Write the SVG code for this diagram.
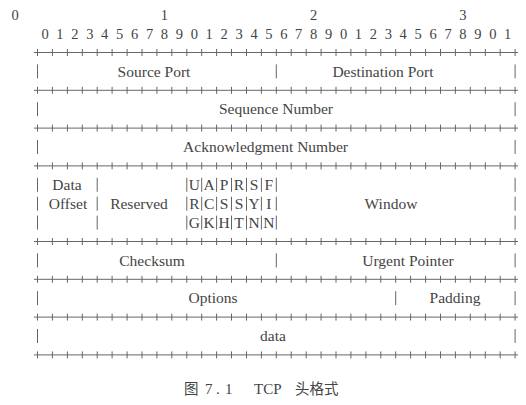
<svg xmlns="http://www.w3.org/2000/svg" width="526" height="405" viewBox="0 0 526 405">
<style>
text{font-family:"Liberation Serif","Times New Roman",serif;fill:#444;font-size:15.5px}
.d{font-size:14.5px;text-anchor:middle}
.m{text-anchor:middle}
.ln{stroke:#666;stroke-width:1;fill:none}
.cap{font-family:"Liberation Serif","Noto Sans CJK SC",serif;font-size:15px}
.cj{font-family:"Noto Sans CJK SC",sans-serif;font-size:14.5px}
</style>
<defs>
<path id="rule" class="ln" d="M34 0H518M37.5 -3.5v7M52.4 -3.5v7M67.4 -3.5v7M82.3 -3.5v7M97.2 -3.5v7M112.1 -3.5v7M127.1 -3.5v7M142 -3.5v7M156.9 -3.5v7M171.8 -3.5v7M186.8 -3.5v7M201.7 -3.5v7M216.6 -3.5v7M231.5 -3.5v7M246.5 -3.5v7M261.4 -3.5v7M276.3 -3.5v7M291.2 -3.5v7M306.2 -3.5v7M321.1 -3.5v7M336 -3.5v7M350.9 -3.5v7M365.9 -3.5v7M380.8 -3.5v7M395.7 -3.5v7M410.6 -3.5v7M425.6 -3.5v7M440.5 -3.5v7M455.4 -3.5v7M470.3 -3.5v7M485.3 -3.5v7M500.2 -3.5v7M515.1 -3.5v7"/>
</defs>
<rect width="526" height="405" fill="#fff"/>
<g id="bit-numbers">
<text class="d" x="15.1 164.3 313.6 462.9" y="19.5">0123</text>
<text class="d" x="45 59.9 74.9 89.8 104.7 119.6 134.6 149.5 164.4 179.3 194.3 209.2 224.1 239 254 268.9 283.8 298.7 313.7 328.6 343.5 358.4 373.4 388.3 403.2 418.1 433.1 448 462.9 477.8 492.8 507.7" y="38.5">01234567890123456789012345678901</text>
</g>
<g id="connectors">
<use href="#rule" y="52.5"/>
<use href="#rule" y="90.3"/>
<use href="#rule" y="128.1"/>
<use href="#rule" y="165.9"/>
<use href="#rule" y="241.5"/>
<use href="#rule" y="279.3"/>
<use href="#rule" y="317.1"/>
<use href="#rule" y="354.9"/>
</g>
<g id="row-ports">
<path class="ln" d="M37.5 64.4V78.4M276.3 64.4V78.4M515.1 64.4V78.4"/>
<g id="source-port"><text class="m" x="154" y="76.5">Source Port</text></g>
<g id="destination-port"><text class="m" x="383" y="76.5">Destination Port</text></g>
</g>
<g id="sequence-number">
<path class="ln" d="M37.5 102.2V116.2M515.1 102.2V116.2"/>
<text class="m" x="276" y="114.3">Sequence Number</text>
</g>
<g id="acknowledgment-number">
<path class="ln" d="M37.5 140V154M515.1 140V154"/>
<text class="m" x="265.5" y="152.1">Acknowledgment Number</text>
</g>
<g id="row-control">
<path class="ln" d="M37.5 177.8V191.8M37.5 196.7V210.7M37.5 215.6V229.6M97.2 177.8V191.8M97.2 196.7V210.7M97.2 215.6V229.6M515.1 177.8V191.8M515.1 196.7V210.7M515.1 215.6V229.6"/>
<g id="data-offset"><text class="m" x="67" y="189.9">Data</text><text class="m" x="68" y="208.8">Offset</text></g>
<g id="reserved"><text class="m" x="139" y="208.8">Reserved</text></g>
<g id="flags">
<path class="ln" d="M186.8 177.8V191.8M201.7 177.8V191.8M216.6 177.8V191.8M231.5 177.8V191.8M246.5 177.8V191.8M261.4 177.8V191.8M276.3 177.8V191.8M186.8 196.7V210.7M201.7 196.7V210.7M216.6 196.7V210.7M231.5 196.7V210.7M246.5 196.7V210.7M261.4 196.7V210.7M276.3 196.7V210.7M186.8 215.6V229.6M201.7 215.6V229.6M216.6 215.6V229.6M231.5 215.6V229.6M246.5 215.6V229.6M261.4 215.6V229.6M276.3 215.6V229.6"/>
<text class="m" x="194.3 209.2 224.1 239 254 268.9" y="189.9">UAPRSF</text>
<text class="m" x="194.3 209.2 224.1 239 254 268.9" y="208.8">RCSSYI</text>
<text class="m" x="194.3 209.2 224.1 239 254 268.9" y="227.7">GKHTNN</text>
</g>
<g id="window"><text class="m" x="391" y="208.8">Window</text></g>
</g>
<g id="row-checksum">
<path class="ln" d="M37.5 253.4V267.4M276.3 253.4V267.4M515.1 253.4V267.4"/>
<g id="checksum"><text class="m" x="152" y="265.5">Checksum</text></g>
<g id="urgent-pointer"><text class="m" x="408" y="265.5">Urgent Pointer</text></g>
</g>
<g id="row-options">
<path class="ln" d="M37.5 291.2V305.2M395.7 291.2V305.2M515.1 291.2V305.2"/>
<g id="options"><text class="m" x="213" y="303.3">Options</text></g>
<g id="padding"><text class="m" x="455" y="303.3">Padding</text></g>
</g>
<g id="data">
<path class="ln" d="M37.5 329V343M515.1 329V343"/>
<text class="m" x="273" y="341.1">data</text>
</g>
<g id="caption">
<text class="cap" y="393.5"><tspan class="cj" x="184">图</tspan><tspan x="205">7</tspan><tspan x="216">.</tspan><tspan x="225">1</tspan><tspan x="254">TCP</tspan><tspan class="cj" x="295">头格式</tspan></text>
</g>
</svg>
